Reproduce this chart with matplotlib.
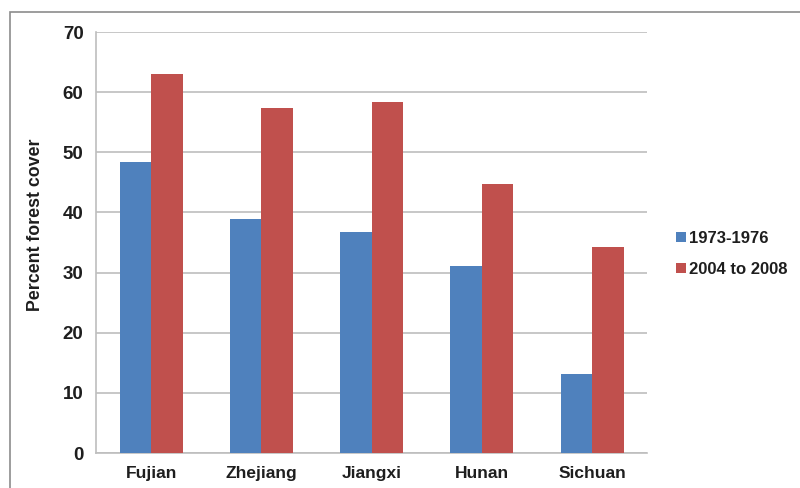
import numpy as np
import matplotlib.pyplot as plt
from matplotlib.patches import Rectangle

# Forest cover by province, two survey periods
provinces = ['Fujian', 'Zhejiang', 'Jiangxi', 'Hunan', 'Sichuan']
cover_1973_1976 = [48.4, 38.9, 36.7, 31.1, 13.2]
cover_2004_2008 = [63.0, 57.4, 58.3, 44.8, 34.3]
series_labels = ['1973-1976', '2004 to 2008']

blue = '#4F81BD'
red = '#C0504D'
grid_col = '#BEBEBE'
txt = '#1E1E1E'

plt.rcParams['font.family'] = ['Liberation Sans', 'DejaVu Sans']

fig = plt.figure(figsize=(8, 4.88), dpi=100)
ax = fig.add_axes([0.12, 0.0717, 0.689, 0.8627])

x = np.arange(len(provinces))
w = 0.286
ax.bar(x - w / 2, cover_1973_1976, w, color=blue, label=series_labels[0], zorder=3)
ax.bar(x + w / 2, cover_2004_2008, w, color=red, label=series_labels[1], zorder=3)

ax.set_xlim(-0.5, len(provinces) - 0.5)
ax.set_ylim(0, 70)
ax.set_yticks(np.arange(0, 71, 10))
ax.yaxis.grid(True, color=grid_col, linewidth=1.2, zorder=0)
ax.set_axisbelow(True)

for side in ['top', 'right']:
    ax.spines[side].set_visible(False)
for side in ['left', 'bottom']:
    ax.spines[side].set_color(grid_col)
    ax.spines[side].set_linewidth(1.2)

ax.set_xticks(x)
ax.set_xticklabels(provinces, fontsize=12.5, fontweight='bold', color=txt)
ax.tick_params(axis='x', length=0, pad=9)
ax.tick_params(axis='y', length=0, pad=9, labelsize=13.5, labelcolor=txt)
for lab in ax.get_yticklabels():
    lab.set_fontweight('bold')

fig.text(0.044, 0.539, 'Percent forest cover', rotation=90, ha='center', va='center',
         fontsize=12.8, fontweight='bold', color=txt)

leg = fig.legend(loc='center left', bbox_to_anchor=(0.83, 0.48), frameon=False,
                 borderpad=0.2, handlelength=0.6, handleheight=0.6, handletextpad=0.2,
                 labelspacing=0.95, prop={'size': 12, 'weight': 'bold'})
for t in leg.get_texts():
    t.set_color(txt)

# outer chart frame
fig.patches.append(Rectangle((10 / 800, -0.1), 1.0, 1 - 12 / 488 + 0.1,
                             transform=fig.transFigure, fill=False,
                             edgecolor='#8C8C8C', linewidth=1.2))

fig.savefig('out.png', dpi=100)
